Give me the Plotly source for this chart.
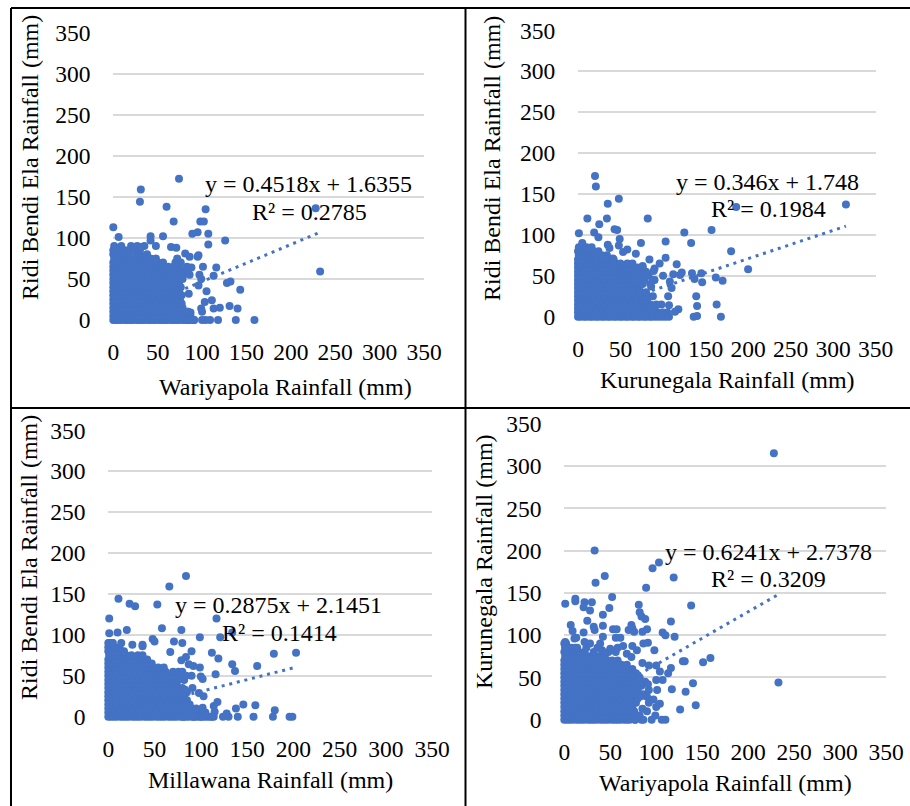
import plotly.graph_objects as go

W, H = 910, 806
BLUE = "#4472C4"
FONT = "Liberation Serif"
TICKS = [0, 50, 100, 150, 200, 250, 300, 350]

# ---------- Panel 1: Wariyapola vs Ridi Bendi Ela ----------
p1_rows = [
    (0, [0, 3, 6, 9, 13, 16, 19, 22, 26, 29, 32, 35, 39, 42, 45, 48, 52, 55, 58, 61, 65, 68, 71, 74, 78, 81, 84, 87, 91]),
    (5, [0, 3, 9, 16, 22, 29, 35, 42, 48, 55, 61, 68, 74, 81, 87]),
    (10, [0, 6, 13, 19, 26, 32, 39, 45, 52, 58, 65, 71, 78, 84]),
    (15, [0, 3, 9, 16, 22, 29, 35, 42, 48, 55, 61, 68, 74, 78]),
    (20, [0, 6, 13, 19, 26, 32, 39, 45, 52, 58, 65, 71, 77]),
    (25, [0, 3, 9, 16, 22, 29, 35, 42, 48, 55, 61, 68, 75]),
    (30, [0, 6, 13, 19, 26, 32, 39, 45, 52, 58, 65, 71, 77]),
    (35, [0, 3, 9, 16, 22, 29, 35, 42, 48, 55, 61, 68, 74]),
    (40, [0, 6, 13, 19, 26, 32, 39, 45, 52, 58, 65, 71, 76]),
    (45, [0, 3, 9, 16, 22, 29, 35, 42, 48, 55, 61, 68, 74]),
    (50, [0, 6, 13, 19, 26, 32, 39, 45, 52, 58, 65, 71, 78]),
    (55, [0, 3, 9, 16, 22, 29, 35, 42, 48, 55, 61, 66, 72, 79, 86]),
    (60, [0, 6, 13, 19, 26, 32, 39, 45, 52, 58, 64, 70, 76, 84]),
    (65, [0, 3, 9, 16, 22, 29, 35, 42, 48, 55, 62, 68, 74]),
    (70, [0, 6, 13, 19, 26, 32, 39, 44, 50, 56, 70, 76]),
    (75, [1, 9, 16, 22, 29, 36, 42, 48, 72]),
    (80, [0, 5, 10, 17, 26, 30, 38]),
    (85, [0, 2, 8, 13, 18, 24, 30]),
    (90, [1, 9, 20, 27]),
]
p1_x = [0, 6, 31, 30, 74, 60, 68, 42, 42, 56, 48, 35, 31, 65, 71, 104, 98, 102, 89, 95, 107, 107, 126,
        228, 233, 81, 86, 96, 95, 116, 101, 88, 83, 113, 97, 99, 96, 128, 132, 143, 105, 131, 140, 120,
        111, 113, 103, 99, 100, 159, 138, 118, 109, 104, 100, 91, 85, 85, 87, 84]
p1_y = [113, 101, 159, 144, 172, 138, 120, 102, 97, 102, 90, 90, 89, 89, 88, 135, 120, 120, 105, 107, 105, 92, 97,
        136, 59, 81, 77, 79, 77, 64, 65, 64, 65, 54, 55, 50, 42, 45, 47, 37, 35, 17, 14, 15,
        24, 14, 22, 14, 10, 0, 0, 0, 0, 0, 0, 0, 0, 32, 9, 10]
p1_trend_x = [0, 233]
p1_trend_y = [1.6355, 106.9]

# ---------- Panel 2: Kurunegala vs Ridi Bendi Ela ----------
p2_rows = [
    (0, [0, 3, 7, 10, 14, 17, 21, 24, 28, 31, 35, 38, 42, 45, 49, 52, 56, 59, 63, 66, 70, 73, 77, 80, 84, 87, 91, 95, 99, 103]),
    (5, [0, 3, 10, 17, 24, 31, 38, 45, 52, 59, 66, 73, 80, 87, 94, 100, 105]),
    (10, [0, 7, 14, 21, 28, 35, 42, 49, 56, 63, 70, 77, 84, 90]),
    (15, [0, 3, 10, 17, 24, 31, 38, 45, 52, 59, 66, 73, 80, 85, 92, 98]),
    (20, [0, 7, 14, 21, 28, 35, 42, 49, 56, 63, 70, 77, 81]),
    (25, [0, 3, 10, 17, 24, 31, 38, 45, 52, 59, 66, 73, 76, 82, 88]),
    (30, [0, 7, 14, 21, 28, 35, 42, 49, 56, 63, 70, 74, 80]),
    (35, [0, 3, 10, 17, 24, 31, 38, 45, 52, 59, 66, 72]),
    (40, [0, 7, 14, 21, 28, 35, 42, 49, 56, 63, 70, 76, 85]),
    (45, [0, 3, 10, 17, 24, 31, 38, 45, 52, 59, 65, 70, 78, 90]),
    (50, [0, 7, 14, 21, 28, 35, 42, 49, 56, 62, 68, 75, 83]),
    (55, [0, 3, 10, 17, 24, 31, 38, 45, 52, 60, 66, 72, 80]),
    (60, [0, 7, 14, 21, 28, 35, 42, 50, 56, 64, 70, 76]),
    (65, [0, 3, 10, 17, 24, 31, 38, 41, 44, 50, 58, 64]),
    (70, [0, 7, 14, 21, 28, 32, 36, 42]),
    (75, [1, 8, 15, 22, 28, 34]),
    (80, [0, 6, 13, 18, 24]),
    (85, [1, 7, 10, 16]),
]
p2_x = [20, 21, 48, 35, 11, 34, 82, 25, 1, 19, 43, 46, 5, 24, 49, 48, 35, 37, 58, 53, 68, 41, 30, 74, 103,
        125, 133, 157, 186, 315, 180, 200, 84, 103, 96, 90, 89, 116, 76, 112, 122, 120, 134, 145, 137, 146,
        162, 170, 139, 140, 163, 168, 136, 140, 107, 118, 114, 107, 106, 110, 108, 100, 88, 86]
p2_y = [172, 159, 144, 138, 120, 120, 120, 113, 102, 103, 107, 106, 90, 97, 95, 87, 88, 84, 82, 79, 77, 71, 73, 90, 92,
        103, 90, 106, 134, 137, 80, 58, 70, 72, 65, 59, 56, 64, 62, 52, 54, 51, 53, 53, 46, 42,
        48, 44, 25, 13, 15, 0, 0, 1, 14, 9, 6, 0, 25, 35, 43, 50, 45, 37]
p2_trend_x = [0, 315]
p2_trend_y = [1.748, 110.7]

# ---------- Panel 3: Millawana vs Ridi Bendi Ela ----------
p3_rows = [
    (0, [0, 3, 6, 9, 13, 16, 19, 22, 26, 29, 32, 35, 39, 42, 45, 48, 52, 55, 58, 61, 65, 68, 71, 74, 78, 81, 84, 87, 91, 94, 97, 100, 104, 107, 110, 114]),
    (5, [0, 3, 9, 16, 22, 29, 35, 42, 48, 55, 61, 68, 74, 81, 87, 94, 100, 105]),
    (10, [0, 6, 13, 19, 26, 32, 39, 45, 52, 58, 65, 71, 78, 84, 90, 95]),
    (15, [0, 3, 9, 16, 22, 29, 35, 42, 48, 55, 61, 68, 74, 81, 88]),
    (20, [0, 6, 13, 19, 26, 32, 39, 45, 52, 58, 65, 71, 78, 85]),
    (25, [0, 3, 9, 16, 22, 29, 35, 42, 48, 55, 61, 68, 74, 82]),
    (30, [0, 6, 13, 19, 26, 32, 39, 45, 52, 58, 65, 71, 75, 80, 85]),
    (35, [0, 3, 9, 16, 22, 29, 35, 42, 48, 55, 61, 66, 70, 75, 80]),
    (40, [0, 6, 13, 19, 26, 32, 39, 45, 52, 58, 64, 68, 74]),
    (45, [0, 3, 9, 16, 22, 29, 35, 42, 48, 55, 61, 65, 70, 75, 82]),
    (50, [0, 6, 13, 19, 26, 32, 39, 45, 52, 58, 65, 72, 78, 84]),
    (55, [0, 3, 9, 16, 22, 29, 35, 42, 48, 53, 58, 62, 70, 76, 80]),
    (60, [0, 6, 13, 19, 26, 32, 39, 43, 48, 54, 60]),
    (65, [0, 3, 9, 16, 22, 29, 35, 41, 47]),
    (70, [0, 6, 13, 19, 25, 30, 36, 42]),
    (75, [1, 7, 13, 19, 25, 32, 37]),
    (80, [0, 5, 11, 17]),
    (85, [0, 2, 6, 12]),
    (90, [1, 4]),
]
p3_x = [84, 66, 11, 23, 29, 53, 1, 117, 1, 10, 20, 58, 79, 134, 121, 99, 48, 50, 71, 80, 14, 26, 37, 37,
        0, 5, 67, 90, 112, 119, 84, 79, 179, 203, 161, 134, 137, 99, 87, 92, 100, 102, 116, 90, 91, 98,
        103, 83, 118, 114, 115, 102, 146, 138, 159, 180, 124, 128, 130, 140, 157, 178, 196, 199, 112, 101, 92, 81]
p3_y = [172, 159, 144, 138, 135, 137, 120, 120, 102, 103, 106, 108, 106, 103, 97, 97, 95, 92, 92, 90, 90, 88, 88, 86,
        90, 90, 79, 80, 78, 71, 73, 69, 77, 78, 62, 64, 56, 60, 64, 62, 49, 46, 52, 50, 35, 29,
        25, 33, 18, 13, 6, 11, 15, 10, 14, 8, 0, 4, 0, 0, 0, 0, 0, 0, 0, 0, 0, 0]
p3_trend_x = [0, 203]
p3_trend_y = [2.1451, 60.5]

# ---------- Panel 4: Wariyapola vs Kurunegala ----------
p4_rows = [
    (0, [0, 3, 6, 9, 13, 16, 19, 22, 26, 29, 32, 35, 39, 42, 45, 48, 52, 55, 58, 61, 65, 68, 71, 77, 84]),
    (5, [0, 3, 9, 16, 22, 29, 35, 42, 48, 55, 61, 68, 74, 82]),
    (10, [0, 6, 13, 19, 26, 32, 39, 45, 52, 58, 65, 70, 76, 90]),
    (15, [0, 3, 9, 16, 22, 29, 35, 42, 48, 55, 61, 68, 74]),
    (20, [0, 6, 13, 19, 26, 32, 39, 45, 52, 58, 65, 72, 78, 92]),
    (25, [0, 3, 9, 16, 22, 29, 35, 42, 48, 55, 61, 68, 74, 80]),
    (30, [0, 6, 13, 19, 26, 32, 39, 45, 52, 58, 65, 72, 78, 86]),
    (35, [0, 3, 9, 16, 22, 29, 35, 42, 48, 55, 61, 68, 74, 80, 92]),
    (40, [0, 6, 13, 19, 26, 32, 39, 45, 52, 58, 65, 70, 76, 84]),
    (45, [0, 3, 9, 16, 22, 29, 35, 42, 48, 55, 61, 68, 74, 80, 88]),
    (50, [0, 6, 13, 19, 26, 32, 39, 45, 52, 58, 65, 71, 76, 82]),
    (55, [0, 3, 9, 16, 22, 29, 35, 42, 48, 55, 61, 66, 72, 78]),
    (60, [0, 6, 13, 19, 26, 32, 39, 45, 52, 58, 62, 68, 74]),
    (65, [0, 3, 9, 16, 22, 29, 35, 42, 50, 57, 62, 68]),
    (70, [0, 6, 13, 19, 26, 30, 35, 41, 47, 52, 58]),
    (75, [1, 7, 14, 20, 26, 32, 38, 44]),
    (80, [0, 5, 11, 16, 22, 32, 48, 56]),
    (85, [1, 4, 8, 14, 24, 36, 58]),
    (90, [0, 2]),
]
p4_x = [228, 233, 33, 44, 34, 103, 96, 119, 89, 52, 12, 12, 1, 22, 30, 21, 28, 49, 42, 81, 138, 82, 84, 88, 116, 25,
        7, 32, 42, 73, 74, 9, 21, 33, 53, 57, 70, 76, 85, 90, 107, 110, 120, 11, 13, 1, 1, 42, 56, 61, 22, 28, 39,
        12, 41, 64, 74, 79, 86, 91, 98, 50, 68, 73, 129, 131, 151, 159, 85, 92, 100, 104, 116, 113,
        107, 100, 91, 117, 101, 132, 140, 143, 126, 104, 100, 97, 90, 84, 110, 106, 95, 99, 86, 77, 85]
p4_y = [315, 44, 200, 170, 162, 186, 179, 168, 156, 145, 143, 140, 137, 139, 139, 133, 129, 132, 124, 136, 135, 127, 122, 119, 116, 117,
        112, 110, 111, 112, 108, 105, 103, 106, 107, 107, 106, 104, 104, 107, 103, 100, 98, 96, 97, 92, 86, 98, 97, 97, 92, 90, 90,
        85, 82, 87, 87, 82, 90, 91, 82, 84, 78, 74, 69, 69, 68, 73, 67, 64, 64, 57, 61, 55,
        47, 47, 42, 36, 35, 33, 43, 17, 12, 19, 15, 24, 27, 28, 0, 0, 0, 5, 0, 0, 13]
p4_trend_x = [0, 233]
p4_trend_y = [2.7378, 148.2]

# ---------- Texts ----------
titles_x = ["Wariyapola Rainfall (mm)", "Kurunegala Rainfall (mm)", "Millawana Rainfall (mm)", "Wariyapola Rainfall (mm)"]
titles_y = ["Ridi Bendi Ela Rainfall (mm)", "Ridi Bendi Ela Rainfall (mm)", "Ridi Bendi Ela Rainfall (mm)", "Kurunegala Rainfall (mm)"]
equations = ["y = 0.4518x + 1.6355", "y = 0.346x + 1.748", "y = 0.2875x + 2.1451", "y = 0.6241x + 2.7378"]
r_squared = ["R² = 0.2785", "R² = 0.1984", "R² = 0.1414", "R² = 0.3209"]

# ---------- Page geometry (pixels) ----------
plot_boxes = [(113.3, 424, 32.7, 320), (578, 875.7, 30.3, 316.7), (108.3, 432, 430.3, 716.7), (564.3, 886, 423.7, 719.7)]
eq_pos = [(308.7, 184), (767, 182), (278, 605), (768, 552)]
r2_pos = [(309, 212), (768, 209), (279, 633), (768, 579)]
xt_pos = [(285.5, 387), (727, 380), (270, 780), (725.5, 783)]
yt_pos = [(30, 158), (492, 158), (29, 558), (484, 562)]
TICK_SIZE = 23.5
TITLE_SIZE = 24
EQ_SIZE = 24


def px(v):
    return v / W


def py(v):
    return 1 - v / H


fig = go.Figure()
panels = [
    (p1_rows, p1_x, p1_y, p1_trend_x, p1_trend_y),
    (p2_rows, p2_x, p2_y, p2_trend_x, p2_trend_y),
    (p3_rows, p3_x, p3_y, p3_trend_x, p3_trend_y),
    (p4_rows, p4_x, p4_y, p4_trend_x, p4_trend_y),
]
annotations = []
for i, (rows, ox, oy, tx, ty) in enumerate(panels):
    n = "" if i == 0 else str(i + 1)
    xs = [x for _, row in rows for x in row] + ox
    ys = [y for y, row in rows for _ in row] + oy
    fig.add_trace(go.Scatter(x=xs, y=ys, mode="markers", xaxis="x" + n, yaxis="y" + n, cliponaxis=False,
                             marker=dict(color=BLUE, size=8, line=dict(width=0)), showlegend=False))
    fig.add_trace(go.Scatter(x=tx, y=ty, mode="lines", xaxis="x" + n, yaxis="y" + n, cliponaxis=False,
                             line=dict(color=BLUE, width=3, dash="3px,4.8px"), showlegend=False))
    l, r, t, b = plot_boxes[i]
    fig.update_layout({
        "xaxis" + n: dict(domain=[px(l), px(r)], range=[0, 350], tickvals=TICKS, showgrid=False, zeroline=False,
                          showline=False, ticks="outside", ticklen=11, tickcolor="rgba(0,0,0,0)",
                          anchor="y" + n, tickfont=dict(family=FONT, size=TICK_SIZE, color="#000000")),
        "yaxis" + n: dict(domain=[py(b), py(t)], range=[0, 350], tickvals=TICKS, showgrid=True, gridcolor="#D9D9D9",
                          gridwidth=2, zeroline=False, showline=False, ticks="outside", ticklen=17,
                          tickcolor="rgba(0,0,0,0)", anchor="x" + n,
                          tickfont=dict(family=FONT, size=TICK_SIZE, color="#000000")),
    })
    for text, (ax, ay), size, ang in [
        (equations[i], eq_pos[i], EQ_SIZE, 0),
        (r_squared[i], r2_pos[i], EQ_SIZE, 0),
        (titles_x[i], xt_pos[i], TITLE_SIZE, 0),
        (titles_y[i], yt_pos[i], TITLE_SIZE, -90),
    ]:
        annotations.append(dict(text=text, x=px(ax), y=py(ay), xref="paper", yref="paper", xanchor="center",
                                yanchor="middle", showarrow=False, textangle=ang,
                                font=dict(family=FONT, size=size, color="#000000")))

border_lines = [
    (11, 8, 910, 8), (11, 8, 11, 806), (465.5, 8, 465.5, 806), (11, 408, 910, 408),
]
shapes = [dict(type="line", xref="paper", yref="paper", x0=px(a), y0=py(b), x1=px(c), y1=py(d),
               line=dict(color="#000000", width=2)) for a, b, c, d in border_lines]

fig.update_layout(width=W, height=H, margin=dict(l=0, r=0, t=0, b=0, autoexpand=False),
                  plot_bgcolor="white", paper_bgcolor="white",
                  showlegend=False, annotations=annotations, shapes=shapes)
fig.write_html("out.html", post_script="document.body.style.margin='0';document.documentElement.style.overflow='hidden';",
               config={"displayModeBar": False})
